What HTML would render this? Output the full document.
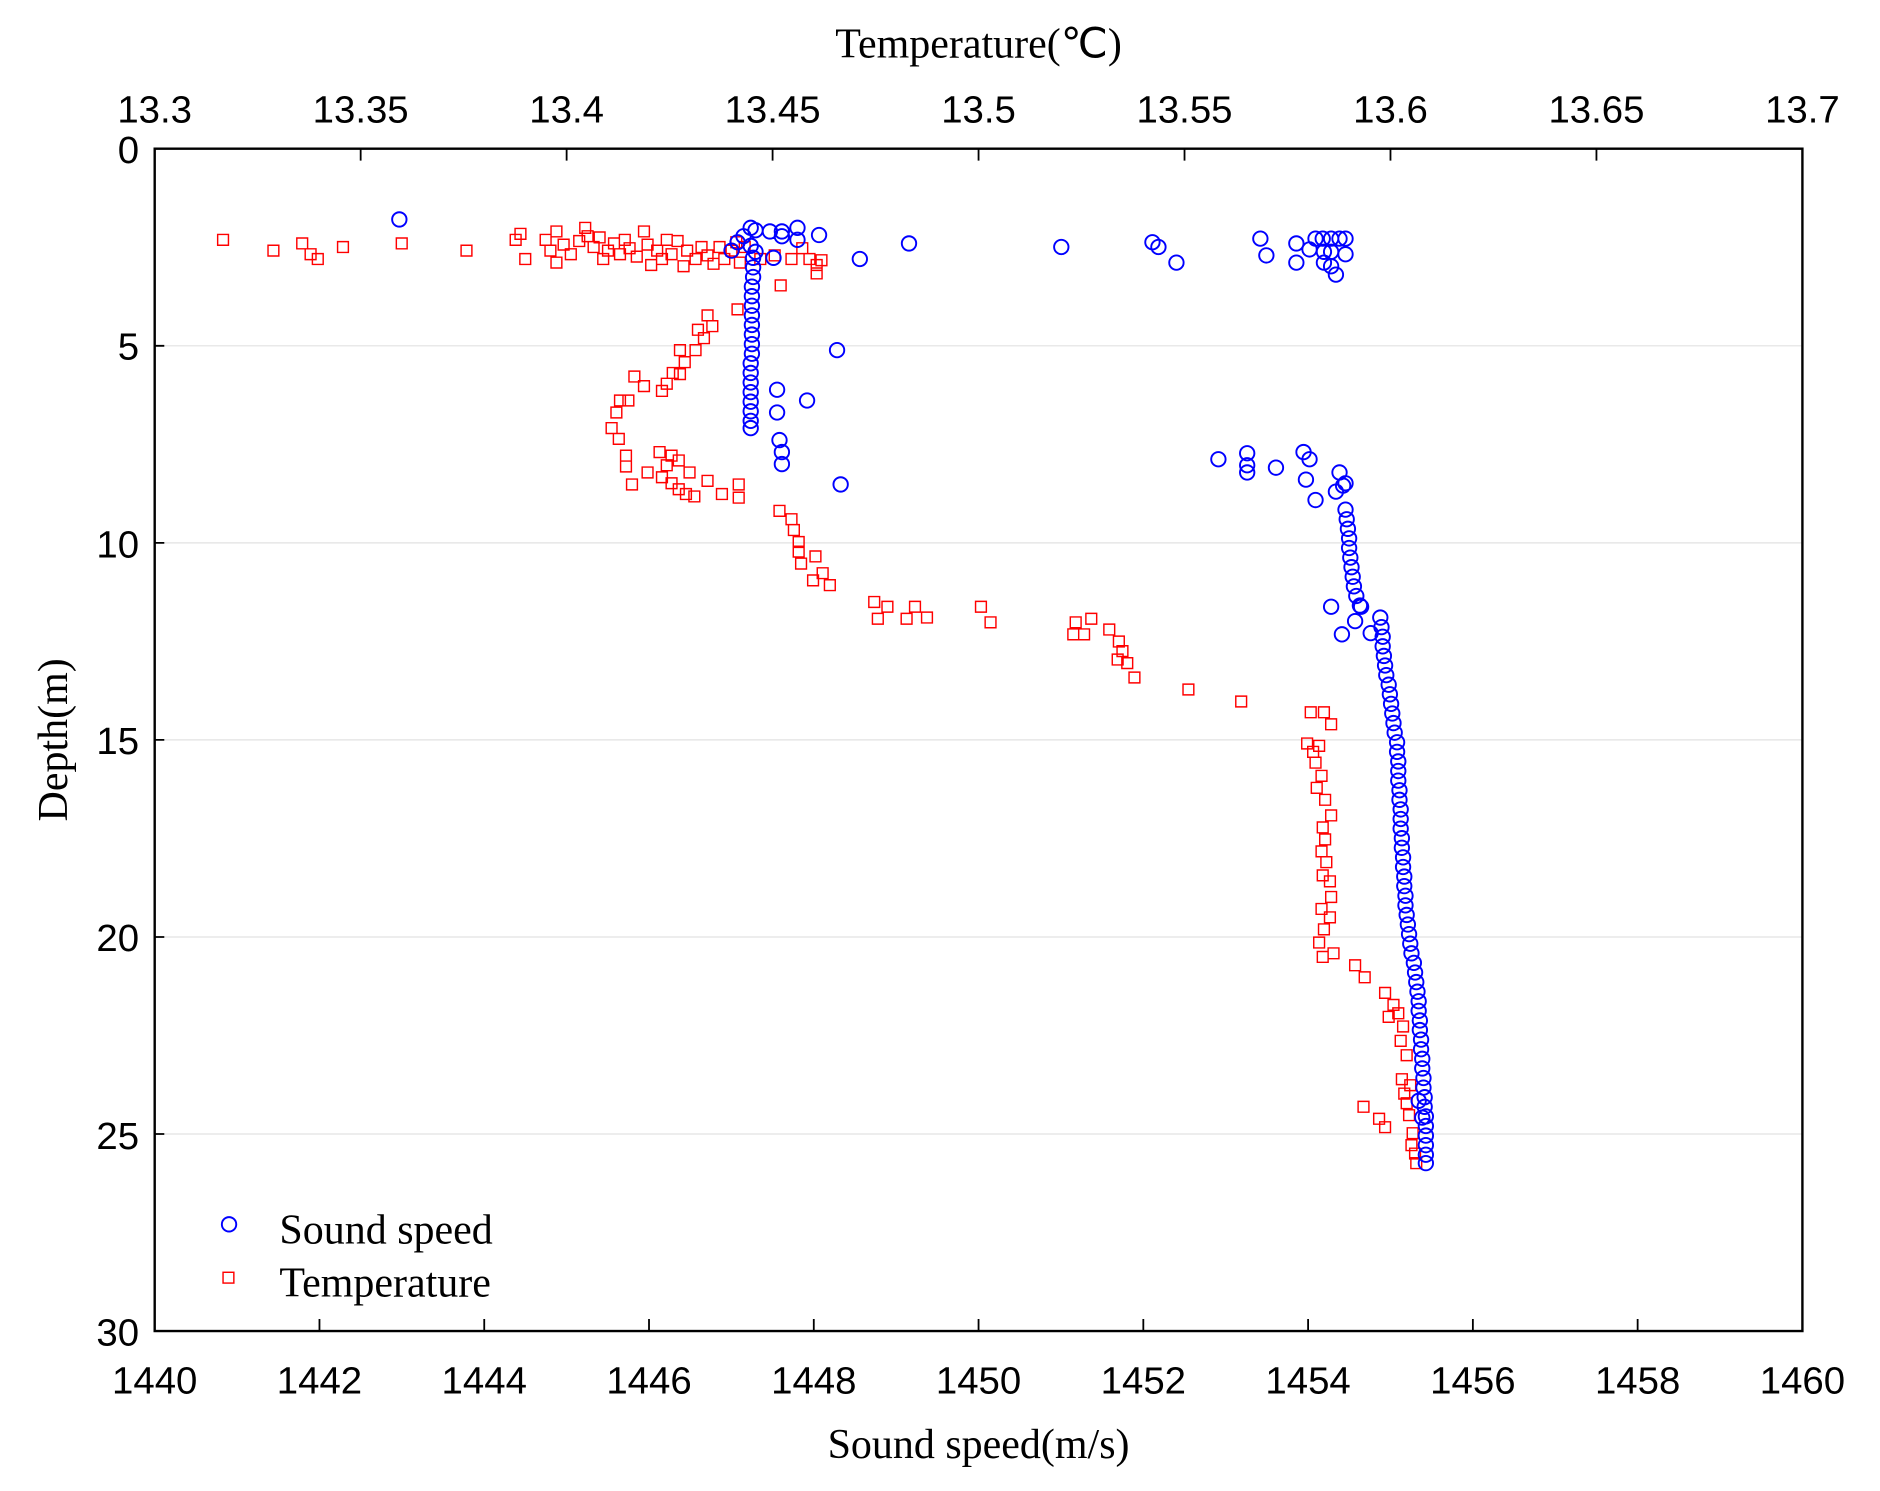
<!DOCTYPE html>
<html><head><meta charset="utf-8"><style>html,body{margin:0;padding:0;background:#fff}svg{display:block}</style></head>
<body>
<svg width="1880" height="1491" viewBox="0 0 1567.7 1243.4" preserveAspectRatio="none" xmlns="http://www.w3.org/2000/svg">
<rect width="1568" height="1244" fill="#fff"/>
<g stroke="#e2e2e2" stroke-width="1">
<line x1="129" x2="1503" y1="288.4" y2="288.4"/><line x1="129" x2="1503" y1="452.7" y2="452.7"/>
<line x1="129" x2="1503" y1="617" y2="617"/><line x1="129" x2="1503" y1="781.4" y2="781.4"/>
<line x1="129" x2="1503" y1="945.7" y2="945.7"/>
</g>
<path fill="none" stroke="#ff0000" stroke-width="1.2" d="
M186 200m-4.5-4.5h9v9h-9z M228 209m-4.5-4.5h9v9h-9z M252 203m-4.5-4.5h9v9h-9z M259 212m-4.5-4.5h9v9h-9z M265 216m-4.5-4.5h9v9h-9z M286 206m-4.5-4.5h9v9h-9z M335 203m-4.5-4.5h9v9h-9z M389 209m-4.5-4.5h9v9h-9z M430 200m-4.5-4.5h9v9h-9z M434 195m-4.5-4.5h9v9h-9z M438 216m-4.5-4.5h9v9h-9z M455 200m-4.5-4.5h9v9h-9z M459 209m-4.5-4.5h9v9h-9z M464 193m-4.5-4.5h9v9h-9z M464 219m-4.5-4.5h9v9h-9z M470 204m-4.5-4.5h9v9h-9z M476 212m-4.5-4.5h9v9h-9z M483 201m-4.5-4.5h9v9h-9z M488 190m-4.5-4.5h9v9h-9z M490 197m-4.5-4.5h9v9h-9z M495 206m-4.5-4.5h9v9h-9z M500 198m-4.5-4.5h9v9h-9z M503 216m-4.5-4.5h9v9h-9z M507 209m-4.5-4.5h9v9h-9z M512 203m-4.5-4.5h9v9h-9z M517 212m-4.5-4.5h9v9h-9z M521 200m-4.5-4.5h9v9h-9z M525 207m-4.5-4.5h9v9h-9z M531 214m-4.5-4.5h9v9h-9z M537 193m-4.5-4.5h9v9h-9z M540 204m-4.5-4.5h9v9h-9z M543 221m-4.5-4.5h9v9h-9z M548 209m-4.5-4.5h9v9h-9z M552 216m-4.5-4.5h9v9h-9z M556 200m-4.5-4.5h9v9h-9z M560 212m-4.5-4.5h9v9h-9z M565 201m-4.5-4.5h9v9h-9z M570 222m-4.5-4.5h9v9h-9z M573 209m-4.5-4.5h9v9h-9z M580 216m-4.5-4.5h9v9h-9z M585 206m-4.5-4.5h9v9h-9z M590 213m-4.5-4.5h9v9h-9z M595 220m-4.5-4.5h9v9h-9z M600 206m-4.5-4.5h9v9h-9z M604 216m-4.5-4.5h9v9h-9z M610 209m-4.5-4.5h9v9h-9z M614 202m-4.5-4.5h9v9h-9z M617 219m-4.5-4.5h9v9h-9z M621 206m-4.5-4.5h9v9h-9z M634 216m-4.5-4.5h9v9h-9z M646 213m-4.5-4.5h9v9h-9z M651 238m-4.5-4.5h9v9h-9z M660 216m-4.5-4.5h9v9h-9z M669 207m-4.5-4.5h9v9h-9z M675 216m-4.5-4.5h9v9h-9z M681 221m-4.5-4.5h9v9h-9z M681 228m-4.5-4.5h9v9h-9z M685 217m-4.5-4.5h9v9h-9z
M615 258m-4.5-4.5h9v9h-9z M590 263m-4.5-4.5h9v9h-9z M594 272m-4.5-4.5h9v9h-9z M582 275m-4.5-4.5h9v9h-9z M587 282m-4.5-4.5h9v9h-9z M580 292m-4.5-4.5h9v9h-9z M567 292m-4.5-4.5h9v9h-9z M571 302m-4.5-4.5h9v9h-9z M567 312m-4.5-4.5h9v9h-9z M561 311m-4.5-4.5h9v9h-9z M556 320m-4.5-4.5h9v9h-9z M552 326m-4.5-4.5h9v9h-9z M537 322m-4.5-4.5h9v9h-9z M529 314m-4.5-4.5h9v9h-9z M524 334m-4.5-4.5h9v9h-9z M517 334m-4.5-4.5h9v9h-9z M514 344m-4.5-4.5h9v9h-9z M510 357m-4.5-4.5h9v9h-9z M516 366m-4.5-4.5h9v9h-9z M522 380m-4.5-4.5h9v9h-9z M522 389m-4.5-4.5h9v9h-9z M527 404m-4.5-4.5h9v9h-9z M540 394m-4.5-4.5h9v9h-9z M550 377m-4.5-4.5h9v9h-9z M560 380m-4.5-4.5h9v9h-9z M556 388m-4.5-4.5h9v9h-9z M566 384m-4.5-4.5h9v9h-9z M575 394m-4.5-4.5h9v9h-9z M552 398m-4.5-4.5h9v9h-9z M560 403m-4.5-4.5h9v9h-9z M566 408m-4.5-4.5h9v9h-9z M572 412m-4.5-4.5h9v9h-9z M579 414m-4.5-4.5h9v9h-9z M590 401m-4.5-4.5h9v9h-9z M602 412m-4.5-4.5h9v9h-9z M616 404m-4.5-4.5h9v9h-9z M616 415m-4.5-4.5h9v9h-9z
M650 426m-4.5-4.5h9v9h-9z M660 433m-4.5-4.5h9v9h-9z M662 442m-4.5-4.5h9v9h-9z M666 452m-4.5-4.5h9v9h-9z M666 460m-4.5-4.5h9v9h-9z M668 470m-4.5-4.5h9v9h-9z M680 464m-4.5-4.5h9v9h-9z M686 478m-4.5-4.5h9v9h-9z M678 484m-4.5-4.5h9v9h-9z M692 488m-4.5-4.5h9v9h-9z M729 502m-4.5-4.5h9v9h-9z M740 506m-4.5-4.5h9v9h-9z M732 516m-4.5-4.5h9v9h-9z M763 506m-4.5-4.5h9v9h-9z M756 516m-4.5-4.5h9v9h-9z M773 515m-4.5-4.5h9v9h-9z M818 506m-4.5-4.5h9v9h-9z M826 519m-4.5-4.5h9v9h-9z M897 519m-4.5-4.5h9v9h-9z M904 529m-4.5-4.5h9v9h-9z M910 516m-4.5-4.5h9v9h-9z M895 529m-4.5-4.5h9v9h-9z M925 525m-4.5-4.5h9v9h-9z M933 535m-4.5-4.5h9v9h-9z M936 543m-4.5-4.5h9v9h-9z M932 550m-4.5-4.5h9v9h-9z M940 553m-4.5-4.5h9v9h-9z M946 565m-4.5-4.5h9v9h-9z M991 575m-4.5-4.5h9v9h-9z M1035 585m-4.5-4.5h9v9h-9z
M1093 594m-4.5-4.5h9v9h-9z M1104 594m-4.5-4.5h9v9h-9z M1110 604m-4.5-4.5h9v9h-9z M1090 620m-4.5-4.5h9v9h-9z M1095 627m-4.5-4.5h9v9h-9z M1100 622m-4.5-4.5h9v9h-9z M1097 636m-4.5-4.5h9v9h-9z M1102 647m-4.5-4.5h9v9h-9z M1098 657m-4.5-4.5h9v9h-9z M1105 667m-4.5-4.5h9v9h-9z M1110 680m-4.5-4.5h9v9h-9z M1103 690m-4.5-4.5h9v9h-9z M1105 700m-4.5-4.5h9v9h-9z M1102 710m-4.5-4.5h9v9h-9z M1106 719m-4.5-4.5h9v9h-9z M1103 730m-4.5-4.5h9v9h-9z M1109 735m-4.5-4.5h9v9h-9z M1110 748m-4.5-4.5h9v9h-9z M1102 758m-4.5-4.5h9v9h-9z M1109 765m-4.5-4.5h9v9h-9z M1104 775m-4.5-4.5h9v9h-9z M1100 786m-4.5-4.5h9v9h-9z M1103 798m-4.5-4.5h9v9h-9z M1112 795m-4.5-4.5h9v9h-9z M1130 805m-4.5-4.5h9v9h-9z M1138 815m-4.5-4.5h9v9h-9z M1155 828m-4.5-4.5h9v9h-9z M1162 838m-4.5-4.5h9v9h-9z M1166 845m-4.5-4.5h9v9h-9z M1158 848m-4.5-4.5h9v9h-9z M1170 856m-4.5-4.5h9v9h-9z M1168 868m-4.5-4.5h9v9h-9z M1173 880m-4.5-4.5h9v9h-9z M1169 900m-4.5-4.5h9v9h-9z M1176 905m-4.5-4.5h9v9h-9z M1171 912m-4.5-4.5h9v9h-9z M1173 920m-4.5-4.5h9v9h-9z M1137 923m-4.5-4.5h9v9h-9z M1150 933m-4.5-4.5h9v9h-9z M1155 940m-4.5-4.5h9v9h-9z M1175 930m-4.5-4.5h9v9h-9z M1178 945m-4.5-4.5h9v9h-9z M1177 955m-4.5-4.5h9v9h-9z M1180 962m-4.5-4.5h9v9h-9z M1181 970m-4.5-4.5h9v9h-9z"/>
<path fill="none" stroke="#0000ff" stroke-width="1.6" d="
M333 183m-6 0a6 6 0 1 0 12 0a6 6 0 1 0-12 0 M626 190m-6 0a6 6 0 1 0 12 0a6 6 0 1 0-12 0 M630 192m-6 0a6 6 0 1 0 12 0a6 6 0 1 0-12 0 M642 193m-6 0a6 6 0 1 0 12 0a6 6 0 1 0-12 0 M652 193m-6 0a6 6 0 1 0 12 0a6 6 0 1 0-12 0 M665 190m-6 0a6 6 0 1 0 12 0a6 6 0 1 0-12 0 M683 196m-6 0a6 6 0 1 0 12 0a6 6 0 1 0-12 0 M665 200m-6 0a6 6 0 1 0 12 0a6 6 0 1 0-12 0 M652 197m-6 0a6 6 0 1 0 12 0a6 6 0 1 0-12 0 M620 197m-6 0a6 6 0 1 0 12 0a6 6 0 1 0-12 0 M615 202m-6 0a6 6 0 1 0 12 0a6 6 0 1 0-12 0 M610 209m-6 0a6 6 0 1 0 12 0a6 6 0 1 0-12 0 M626 205m-6 0a6 6 0 1 0 12 0a6 6 0 1 0-12 0 M630 210m-6 0a6 6 0 1 0 12 0a6 6 0 1 0-12 0 M645 215m-6 0a6 6 0 1 0 12 0a6 6 0 1 0-12 0 M717 216m-6 0a6 6 0 1 0 12 0a6 6 0 1 0-12 0 M758 203m-6 0a6 6 0 1 0 12 0a6 6 0 1 0-12 0 M885 206m-6 0a6 6 0 1 0 12 0a6 6 0 1 0-12 0 M961 202m-6 0a6 6 0 1 0 12 0a6 6 0 1 0-12 0 M966 206m-6 0a6 6 0 1 0 12 0a6 6 0 1 0-12 0 M981 219m-6 0a6 6 0 1 0 12 0a6 6 0 1 0-12 0 M1051 199m-6 0a6 6 0 1 0 12 0a6 6 0 1 0-12 0 M1056 213m-6 0a6 6 0 1 0 12 0a6 6 0 1 0-12 0 M1081 203m-6 0a6 6 0 1 0 12 0a6 6 0 1 0-12 0 M1081 219m-6 0a6 6 0 1 0 12 0a6 6 0 1 0-12 0 M1092 208m-6 0a6 6 0 1 0 12 0a6 6 0 1 0-12 0 M1097 199m-6 0a6 6 0 1 0 12 0a6 6 0 1 0-12 0 M1103 199m-6 0a6 6 0 1 0 12 0a6 6 0 1 0-12 0 M1110 199m-6 0a6 6 0 1 0 12 0a6 6 0 1 0-12 0 M1117 199m-6 0a6 6 0 1 0 12 0a6 6 0 1 0-12 0 M1122 199m-6 0a6 6 0 1 0 12 0a6 6 0 1 0-12 0 M1104 210m-6 0a6 6 0 1 0 12 0a6 6 0 1 0-12 0 M1110 210m-6 0a6 6 0 1 0 12 0a6 6 0 1 0-12 0 M1122 212m-6 0a6 6 0 1 0 12 0a6 6 0 1 0-12 0 M1104 219m-6 0a6 6 0 1 0 12 0a6 6 0 1 0-12 0 M1110 222m-6 0a6 6 0 1 0 12 0a6 6 0 1 0-12 0 M1114 229m-6 0a6 6 0 1 0 12 0a6 6 0 1 0-12 0
M698 292m-6 0a6 6 0 1 0 12 0a6 6 0 1 0-12 0 M648 325m-6 0a6 6 0 1 0 12 0a6 6 0 1 0-12 0 M673 334m-6 0a6 6 0 1 0 12 0a6 6 0 1 0-12 0 M648 344m-6 0a6 6 0 1 0 12 0a6 6 0 1 0-12 0 M650 367m-6 0a6 6 0 1 0 12 0a6 6 0 1 0-12 0 M652 377m-6 0a6 6 0 1 0 12 0a6 6 0 1 0-12 0 M652 387m-6 0a6 6 0 1 0 12 0a6 6 0 1 0-12 0 M701 404m-6 0a6 6 0 1 0 12 0a6 6 0 1 0-12 0
M628 215m-6 0a6 6 0 1 0 12 0a6 6 0 1 0-12 0 M628 223m-6 0a6 6 0 1 0 12 0a6 6 0 1 0-12 0 M628 231m-6 0a6 6 0 1 0 12 0a6 6 0 1 0-12 0 M627 239m-6 0a6 6 0 1 0 12 0a6 6 0 1 0-12 0 M627 247m-6 0a6 6 0 1 0 12 0a6 6 0 1 0-12 0 M627 255m-6 0a6 6 0 1 0 12 0a6 6 0 1 0-12 0 M627 263m-6 0a6 6 0 1 0 12 0a6 6 0 1 0-12 0 M627 271m-6 0a6 6 0 1 0 12 0a6 6 0 1 0-12 0 M627 279m-6 0a6 6 0 1 0 12 0a6 6 0 1 0-12 0 M627 287m-6 0a6 6 0 1 0 12 0a6 6 0 1 0-12 0 M627 295m-6 0a6 6 0 1 0 12 0a6 6 0 1 0-12 0 M626 303m-6 0a6 6 0 1 0 12 0a6 6 0 1 0-12 0 M626 311m-6 0a6 6 0 1 0 12 0a6 6 0 1 0-12 0 M626 319m-6 0a6 6 0 1 0 12 0a6 6 0 1 0-12 0 M626 327m-6 0a6 6 0 1 0 12 0a6 6 0 1 0-12 0 M626 335m-6 0a6 6 0 1 0 12 0a6 6 0 1 0-12 0 M626 343m-6 0a6 6 0 1 0 12 0a6 6 0 1 0-12 0 M626 351m-6 0a6 6 0 1 0 12 0a6 6 0 1 0-12 0 M626 357m-6 0a6 6 0 1 0 12 0a6 6 0 1 0-12 0
M1016 383m-6 0a6 6 0 1 0 12 0a6 6 0 1 0-12 0 M1040 378m-6 0a6 6 0 1 0 12 0a6 6 0 1 0-12 0 M1040 388m-6 0a6 6 0 1 0 12 0a6 6 0 1 0-12 0 M1040 394m-6 0a6 6 0 1 0 12 0a6 6 0 1 0-12 0 M1064 390m-6 0a6 6 0 1 0 12 0a6 6 0 1 0-12 0 M1087 377m-6 0a6 6 0 1 0 12 0a6 6 0 1 0-12 0 M1092 383m-6 0a6 6 0 1 0 12 0a6 6 0 1 0-12 0 M1089 400m-6 0a6 6 0 1 0 12 0a6 6 0 1 0-12 0 M1097 417m-6 0a6 6 0 1 0 12 0a6 6 0 1 0-12 0 M1117 394m-6 0a6 6 0 1 0 12 0a6 6 0 1 0-12 0 M1120 405m-6 0a6 6 0 1 0 12 0a6 6 0 1 0-12 0 M1114 410m-6 0a6 6 0 1 0 12 0a6 6 0 1 0-12 0 M1122 403m-6 0a6 6 0 1 0 12 0a6 6 0 1 0-12 0 M1110 506m-6 0a6 6 0 1 0 12 0a6 6 0 1 0-12 0 M1119 529m-6 0a6 6 0 1 0 12 0a6 6 0 1 0-12 0 M1135 506m-6 0a6 6 0 1 0 12 0a6 6 0 1 0-12 0 M1130 518m-6 0a6 6 0 1 0 12 0a6 6 0 1 0-12 0 M1143 528m-6 0a6 6 0 1 0 12 0a6 6 0 1 0-12 0
M1122 425m-6 0a6 6 0 1 0 12 0a6 6 0 1 0-12 0 M1123 433m-6 0a6 6 0 1 0 12 0a6 6 0 1 0-12 0 M1124 441m-6 0a6 6 0 1 0 12 0a6 6 0 1 0-12 0 M1125 449m-6 0a6 6 0 1 0 12 0a6 6 0 1 0-12 0 M1125 457m-6 0a6 6 0 1 0 12 0a6 6 0 1 0-12 0 M1126 465m-6 0a6 6 0 1 0 12 0a6 6 0 1 0-12 0 M1127 473m-6 0a6 6 0 1 0 12 0a6 6 0 1 0-12 0 M1128 481m-6 0a6 6 0 1 0 12 0a6 6 0 1 0-12 0 M1129 489m-6 0a6 6 0 1 0 12 0a6 6 0 1 0-12 0 M1131 497m-6 0a6 6 0 1 0 12 0a6 6 0 1 0-12 0 M1134 505m-6 0a6 6 0 1 0 12 0a6 6 0 1 0-12 0
M1151 515m-6 0a6 6 0 1 0 12 0a6 6 0 1 0-12 0 M1152 523m-6 0a6 6 0 1 0 12 0a6 6 0 1 0-12 0 M1153 531m-6 0a6 6 0 1 0 12 0a6 6 0 1 0-12 0 M1153 539m-6 0a6 6 0 1 0 12 0a6 6 0 1 0-12 0 M1154 547m-6 0a6 6 0 1 0 12 0a6 6 0 1 0-12 0 M1155 555m-6 0a6 6 0 1 0 12 0a6 6 0 1 0-12 0 M1156 563m-6 0a6 6 0 1 0 12 0a6 6 0 1 0-12 0 M1158 571m-6 0a6 6 0 1 0 12 0a6 6 0 1 0-12 0 M1159 579m-6 0a6 6 0 1 0 12 0a6 6 0 1 0-12 0 M1160 587m-6 0a6 6 0 1 0 12 0a6 6 0 1 0-12 0 M1161 595m-6 0a6 6 0 1 0 12 0a6 6 0 1 0-12 0 M1162 603m-6 0a6 6 0 1 0 12 0a6 6 0 1 0-12 0 M1163 611m-6 0a6 6 0 1 0 12 0a6 6 0 1 0-12 0 M1165 619m-6 0a6 6 0 1 0 12 0a6 6 0 1 0-12 0 M1165 627m-6 0a6 6 0 1 0 12 0a6 6 0 1 0-12 0 M1166 635m-6 0a6 6 0 1 0 12 0a6 6 0 1 0-12 0 M1166 643m-6 0a6 6 0 1 0 12 0a6 6 0 1 0-12 0 M1166 651m-6 0a6 6 0 1 0 12 0a6 6 0 1 0-12 0 M1167 659m-6 0a6 6 0 1 0 12 0a6 6 0 1 0-12 0 M1167 667m-6 0a6 6 0 1 0 12 0a6 6 0 1 0-12 0 M1168 675m-6 0a6 6 0 1 0 12 0a6 6 0 1 0-12 0 M1168 683m-6 0a6 6 0 1 0 12 0a6 6 0 1 0-12 0 M1168 691m-6 0a6 6 0 1 0 12 0a6 6 0 1 0-12 0 M1169 699m-6 0a6 6 0 1 0 12 0a6 6 0 1 0-12 0 M1169 707m-6 0a6 6 0 1 0 12 0a6 6 0 1 0-12 0 M1170 715m-6 0a6 6 0 1 0 12 0a6 6 0 1 0-12 0 M1170 723m-6 0a6 6 0 1 0 12 0a6 6 0 1 0-12 0 M1171 731m-6 0a6 6 0 1 0 12 0a6 6 0 1 0-12 0 M1171 739m-6 0a6 6 0 1 0 12 0a6 6 0 1 0-12 0 M1172 747m-6 0a6 6 0 1 0 12 0a6 6 0 1 0-12 0 M1172 755m-6 0a6 6 0 1 0 12 0a6 6 0 1 0-12 0 M1173 763m-6 0a6 6 0 1 0 12 0a6 6 0 1 0-12 0 M1174 771m-6 0a6 6 0 1 0 12 0a6 6 0 1 0-12 0 M1175 779m-6 0a6 6 0 1 0 12 0a6 6 0 1 0-12 0 M1176 787m-6 0a6 6 0 1 0 12 0a6 6 0 1 0-12 0 M1177 795m-6 0a6 6 0 1 0 12 0a6 6 0 1 0-12 0 M1179 803m-6 0a6 6 0 1 0 12 0a6 6 0 1 0-12 0 M1180 811m-6 0a6 6 0 1 0 12 0a6 6 0 1 0-12 0 M1181 819m-6 0a6 6 0 1 0 12 0a6 6 0 1 0-12 0 M1182 827m-6 0a6 6 0 1 0 12 0a6 6 0 1 0-12 0 M1183 835m-6 0a6 6 0 1 0 12 0a6 6 0 1 0-12 0 M1183 843m-6 0a6 6 0 1 0 12 0a6 6 0 1 0-12 0 M1184 851m-6 0a6 6 0 1 0 12 0a6 6 0 1 0-12 0 M1184 859m-6 0a6 6 0 1 0 12 0a6 6 0 1 0-12 0 M1185 867m-6 0a6 6 0 1 0 12 0a6 6 0 1 0-12 0 M1185 875m-6 0a6 6 0 1 0 12 0a6 6 0 1 0-12 0 M1186 883m-6 0a6 6 0 1 0 12 0a6 6 0 1 0-12 0 M1186 891m-6 0a6 6 0 1 0 12 0a6 6 0 1 0-12 0 M1187 899m-6 0a6 6 0 1 0 12 0a6 6 0 1 0-12 0 M1187 907m-6 0a6 6 0 1 0 12 0a6 6 0 1 0-12 0 M1188 915m-6 0a6 6 0 1 0 12 0a6 6 0 1 0-12 0 M1188 923m-6 0a6 6 0 1 0 12 0a6 6 0 1 0-12 0 M1189 931m-6 0a6 6 0 1 0 12 0a6 6 0 1 0-12 0 M1189 939m-6 0a6 6 0 1 0 12 0a6 6 0 1 0-12 0 M1189 947m-6 0a6 6 0 1 0 12 0a6 6 0 1 0-12 0 M1189 955m-6 0a6 6 0 1 0 12 0a6 6 0 1 0-12 0 M1189 963m-6 0a6 6 0 1 0 12 0a6 6 0 1 0-12 0 M1189 970m-6 0a6 6 0 1 0 12 0a6 6 0 1 0-12 0 M1183 918m-6 0a6 6 0 1 0 12 0a6 6 0 1 0-12 0 M1186 932m-6 0a6 6 0 1 0 12 0a6 6 0 1 0-12 0"/>
<rect x="129" y="124" width="1374" height="986" fill="none" stroke="#000" stroke-width="2"/>
<path stroke="#000" stroke-width="1.5" fill="none" d="M266.4 1110v-10M403.8 1110v-10M541.2 1110v-10M678.6 1110v-10M816 1110v-10M953.4 1110v-10M1090.8 1110v-10M1228.2 1110v-10M1365.6 1110v-10M300.75 124v10M472.5 124v10M644.25 124v10M816 124v10M987.75 124v10M1159.5 124v10M1331.25 124v10M129 288.4h8M129 452.7h8M129 617h8M129 781.4h8M129 945.7h8"/>
<g font-family="Liberation Sans, Arial, sans-serif" font-size="32" fill="#000" text-anchor="middle">
<text x="129" y="1162">1440</text><text x="266.4" y="1162">1442</text><text x="403.8" y="1162">1444</text><text x="541.2" y="1162">1446</text><text x="678.6" y="1162">1448</text><text x="816" y="1162">1450</text><text x="953.4" y="1162">1452</text><text x="1090.8" y="1162">1454</text><text x="1228.2" y="1162">1456</text><text x="1365.6" y="1162">1458</text><text x="1503" y="1162">1460</text>
<text x="129" y="102">13.3</text><text x="300.75" y="102">13.35</text><text x="472.5" y="102">13.4</text><text x="644.25" y="102">13.45</text><text x="816" y="102">13.5</text><text x="987.75" y="102">13.55</text><text x="1159.5" y="102">13.6</text><text x="1331.25" y="102">13.65</text><text x="1503" y="102">13.7</text>
</g>
<g font-family="Liberation Sans, Arial, sans-serif" font-size="32" fill="#000" text-anchor="end">
<text x="116" y="136">0</text><text x="116" y="300">5</text><text x="116" y="465">10</text>
<text x="116" y="629">15</text><text x="116" y="793">20</text><text x="116" y="958">25</text><text x="116" y="1122">30</text>
</g>
<g font-family="Liberation Serif, Times New Roman, serif" font-size="35" fill="#000">
<text x="816" y="48" text-anchor="middle">Temperature(℃)</text>
<text x="816" y="1216" text-anchor="middle">Sound speed(m/s)</text>
<text transform="translate(56,617) rotate(-90)" text-anchor="middle">Depth(m)</text>
<text x="233" y="1037">Sound speed</text>
<text x="233" y="1081">Temperature</text>
</g>
<circle cx="191" cy="1021" r="6" fill="none" stroke="#0000ff" stroke-width="1.6"/>
<rect x="186" y="1061" width="9" height="9" fill="none" stroke="#ff0000" stroke-width="1.2"/>
</svg>
</body></html>
